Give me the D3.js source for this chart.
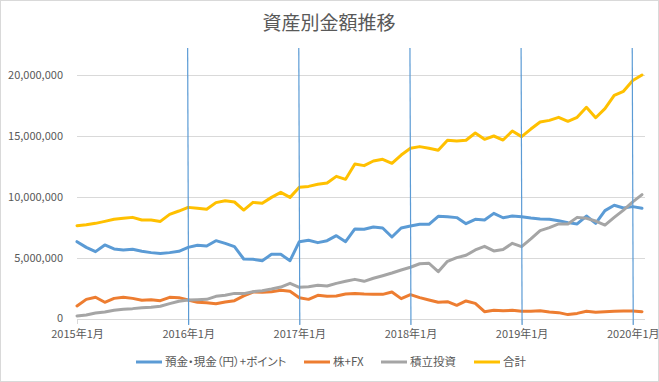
<!DOCTYPE html>
<html><head><meta charset="utf-8">
<script src="https://cdn.jsdelivr.net/npm/d3@7"></script>
<style>
html,body{margin:0;padding:0;background:#fff;}
text{font-family:"Noto Sans CJK JP","Noto Sans",sans-serif;fill:#595959;}
</style></head>
<body><svg id="c" width="659" height="382"></svg>
<script>
const monthCount = 62;
const tickLabels = ["2015年1月","2016年1月","2017年1月","2018年1月","2019年1月","2020年1月"];
const tickIndex = [0,12,24,36,48,60];
const yTicks = [0,5000000,10000000,15000000,20000000];
const seriesNames = ["預金・現金（円）+ポイント","株+FX","積立投資","合計"];
const seriesColors = ["#5B9BD5","#ED7D31","#A5A5A5","#FFC000"];

// values in millions of yen
const deposit = [6.34,5.87,5.52,6.07,5.74,5.66,5.71,5.55,5.44,5.36,5.44,5.55,
  5.87,6.04,5.98,6.42,6.2,5.93,4.92,4.89,4.78,5.3,5.3,4.78,
  6.34,6.45,6.26,6.42,6.83,6.34,7.38,7.35,7.54,7.46,6.72,7.46,
  7.62,7.76,7.76,8.42,8.39,8.31,7.81,8.17,8.11,8.66,8.3,8.44,
  8.39,8.28,8.2,8.17,8.06,7.9,7.79,8.44,7.84,8.88,9.32,9.1,
  9.21,9.07];
const stocks = [1.07,1.61,1.78,1.37,1.69,1.78,1.69,1.53,1.58,1.5,1.78,1.75,
  1.56,1.37,1.34,1.25,1.39,1.5,1.89,2.21,2.19,2.24,2.35,2.27,
  1.75,1.61,1.94,1.86,1.89,2.05,2.1,2.05,2.02,2.02,2.21,1.67,
  2.0,1.75,1.56,1.37,1.42,1.12,1.48,1.28,0.6,0.71,0.68,0.71,
  0.63,0.63,0.68,0.57,0.52,0.36,0.46,0.63,0.55,0.6,0.63,0.66,
  0.66,0.6];
const funds = [0.25,0.33,0.49,0.57,0.71,0.79,0.85,0.93,0.96,1.04,1.26,1.45,
  1.56,1.58,1.61,1.86,1.94,2.1,2.08,2.24,2.32,2.46,2.62,2.92,
  2.6,2.65,2.76,2.7,2.92,3.09,3.25,3.09,3.34,3.55,3.77,4.02,
  4.24,4.53,4.57,3.88,4.73,5.03,5.22,5.66,5.96,5.58,5.7,6.2,
  5.93,6.56,7.24,7.49,7.79,7.79,8.33,8.25,8.03,7.7,8.33,8.93,
  9.6,10.2];
const total = [7.65,7.73,7.84,8.0,8.17,8.25,8.33,8.11,8.11,8.0,8.58,8.85,
  9.15,9.07,8.99,9.54,9.7,9.59,8.93,9.56,9.48,9.97,10.38,9.97,
  10.8,10.87,11.04,11.15,11.69,11.45,12.7,12.57,12.95,13.09,12.76,13.44,
  13.99,14.13,13.99,13.83,14.65,14.59,14.65,15.25,14.73,15.0,14.67,15.41,
  14.95,15.57,16.15,16.28,16.53,16.2,16.53,17.35,16.5,17.24,18.33,18.66,
  19.55,20.0];
const seriesData = [deposit, stocks, funds, total];

const svg = d3.select("#c");
svg.append("rect").attr("x",0.5).attr("y",0.5).attr("width",658).attr("height",381)
  .attr("fill","#fff").attr("stroke","#d9d9d9");

const x = d3.scaleLinear().domain([0, monthCount-1]).range([77, 642]);
const y = d3.scaleLinear().domain([0, 20000000]).range([319, 75]);

svg.append("text").attr("x",329).attr("y",30).attr("text-anchor","middle")
  .style("font-size","19px").text("資産別金額推移");

// gridlines + y labels
const yAxis = d3.axisLeft(y).tickValues(yTicks).tickSize(-(645-77)).tickPadding(14)
  .tickFormat(d3.format(","));
const gy = svg.append("g").attr("transform","translate(77,0)").call(yAxis);
gy.select(".domain").remove();
gy.selectAll("line").attr("stroke","#d9d9d9").attr("stroke-width",1);
gy.selectAll("text").style("font-size","11px").attr("fill","#595959");
gy.selectAll(".tick").filter(d=>d===0).select("text").attr("dy","0.2em");

// x axis
const xAxis = d3.axisBottom(x).tickValues(tickIndex).tickSize(5).tickPadding(6)
  .tickFormat((d,i)=>tickLabels[i]);
const gx = svg.append("g").attr("transform","translate(0,319)").call(xAxis);
gx.select(".domain").attr("stroke","#d9d9d9").attr("d","M77,0.5H645");
gx.selectAll("line").attr("stroke","#d9d9d9");
gx.selectAll("text").style("font-size","11px").attr("fill","#595959");

// lines
const line = d3.line().x((d,i)=>x(i)).y(d=>y(d*1e6));
seriesData.forEach((s,k)=>{
  svg.append("path").datum(s).attr("d",line).attr("fill","none")
    .attr("stroke",seriesColors[k]).attr("stroke-width",3)
    .attr("stroke-linejoin","round").attr("stroke-linecap","round");
});

// vertical markers at each January
svg.append("g").selectAll("line").data(tickIndex.slice(1)).join("line")
  .attr("x1",d=>x(d)-0.5).attr("x2",d=>x(d)+0.5)
  .attr("y1",48).attr("y2",325)
  .attr("stroke","#5B9BD5").attr("stroke-width",1.2);

// legend
const legendX = [136, 304, 381, 474];
const lg = svg.append("g");
seriesNames.forEach((n,k)=>{
  lg.append("line").attr("x1",legendX[k]).attr("x2",legendX[k]+26)
    .attr("y1",362).attr("y2",362).attr("stroke",seriesColors[k]).attr("stroke-width",3);
  lg.append("text").attr("x",legendX[k]+29).attr("y",366)
    .style("font-size","11.5px").style("font-feature-settings","'palt'").text(n);
});
</script></body></html>
